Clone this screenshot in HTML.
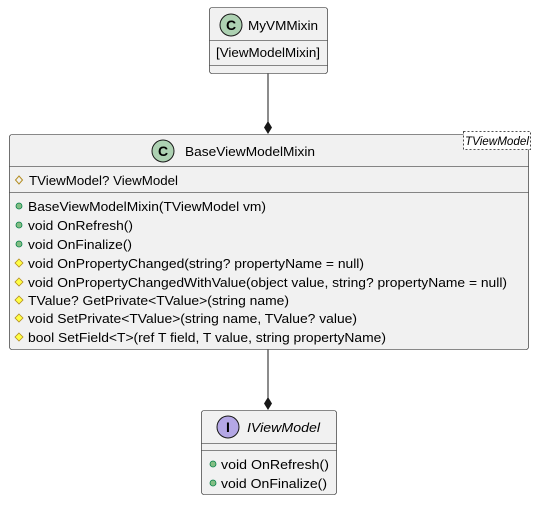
<!DOCTYPE html>
<html><head><style>
html,body{margin:0;padding:0;background:#fff;}
svg text{font-family:"Liberation Sans",sans-serif;font-size:13px;fill:#000;}
</style></head><body>
<svg width="538" height="501" viewBox="0 0 538 501" xmlns="http://www.w3.org/2000/svg">
<!-- connectors -->
<line x1="268" y1="73" x2="268" y2="124" stroke="#181818" stroke-width="1"/>
<polygon points="268,121 272,127.5 268,134 264,127.5" fill="#181818"/>
<line x1="268" y1="349" x2="268" y2="400" stroke="#181818" stroke-width="1"/>
<polygon points="268,397 272,403.5 268,410 264,403.5" fill="#181818"/>

<!-- MyVMMixin -->
<rect x="209.5" y="7.5" width="118" height="66" rx="2.5" fill="#F1F1F1" stroke="#181818" stroke-width="0.6"/>
<circle cx="231" cy="25" r="11" fill="#ADD1B2" stroke="#181818" stroke-width="1"/>
<text x="231" y="30" text-anchor="middle" style="font-weight:bold;font-size:14px">C</text>
<text x="248" y="30" textLength="70" lengthAdjust="spacingAndGlyphs">MyVMMixin</text>
<line x1="209.5" y1="40.5" x2="327.5" y2="40.5" stroke="#181818" stroke-width="0.6"/>
<text x="216" y="57" textLength="104" lengthAdjust="spacingAndGlyphs">[ViewModelMixin]</text>
<line x1="209.5" y1="65.5" x2="327.5" y2="65.5" stroke="#181818" stroke-width="0.6"/>

<!-- BaseViewModelMixin -->
<rect x="9.5" y="134.5" width="519" height="215" rx="2.5" fill="#F1F1F1" stroke="#181818" stroke-width="0.6"/>
<rect x="463.5" y="131.5" width="67" height="18" fill="#fff" stroke="#181818" stroke-width="0.8" stroke-dasharray="2,2"/>
<text x="465" y="145" style="font-style:italic;font-size:12px" textLength="64" lengthAdjust="spacingAndGlyphs">TViewModel</text>
<circle cx="163" cy="151" r="11" fill="#ADD1B2" stroke="#181818" stroke-width="1"/>
<text x="163" y="156" text-anchor="middle" style="font-weight:bold;font-size:14px">C</text>
<text x="185" y="156" textLength="130" lengthAdjust="spacingAndGlyphs">BaseViewModelMixin</text>
<line x1="9.5" y1="166.5" x2="528.5" y2="166.5" stroke="#181818" stroke-width="0.6"/>
<polygon points="19,176 22.5,180 19,184 15.5,180" fill="none" stroke="#B38D22" stroke-width="1"/>
<text x="29" y="185" textLength="149" lengthAdjust="spacingAndGlyphs">TViewModel? ViewModel</text>
<line x1="9.5" y1="192.5" x2="528.5" y2="192.5" stroke="#181818" stroke-width="0.6"/>

<g fill="#84BE84" stroke="#038048" stroke-width="0.8">
<circle cx="19" cy="206" r="3"/><circle cx="19" cy="225" r="3"/><circle cx="19" cy="244" r="3"/>
</g>
<g fill="#FFFF44" stroke="#B38D22" stroke-width="0.8">
<polygon points="19,259 23,263 19,267 15,263"/>
<polygon points="19,278 23,282 19,286 15,282"/>
<polygon points="19,296 23,300 19,304 15,300"/>
<polygon points="19,314 23,318 19,322 15,318"/>
<polygon points="19,333 23,337 19,341 15,337"/>
</g>
<text x="28" y="211" textLength="238" lengthAdjust="spacingAndGlyphs">BaseViewModelMixin(TViewModel vm)</text>
<text x="28" y="230" textLength="105" lengthAdjust="spacingAndGlyphs">void OnRefresh()</text>
<text x="28" y="249" textLength="104" lengthAdjust="spacingAndGlyphs">void OnFinalize()</text>
<text x="28" y="268" textLength="336" lengthAdjust="spacingAndGlyphs">void OnPropertyChanged(string? propertyName = null)</text>
<text x="28" y="287" textLength="479" lengthAdjust="spacingAndGlyphs">void OnPropertyChangedWithValue(object value, string? propertyName = null)</text>
<text x="28" y="305" textLength="261" lengthAdjust="spacingAndGlyphs">TValue? GetPrivate&lt;TValue&gt;(string name)</text>
<text x="28" y="323" textLength="329" lengthAdjust="spacingAndGlyphs">void SetPrivate&lt;TValue&gt;(string name, TValue? value)</text>
<text x="28" y="342" textLength="358" lengthAdjust="spacingAndGlyphs">bool SetField&lt;T&gt;(ref T field, T value, string propertyName)</text>

<!-- IViewModel -->
<rect x="201.5" y="410.5" width="135" height="84" rx="2.5" fill="#F1F1F1" stroke="#181818" stroke-width="0.6"/>
<circle cx="228" cy="427" r="11" fill="#B4A7E5" stroke="#181818" stroke-width="1"/>
<text x="228" y="432" text-anchor="middle" style="font-weight:bold;font-size:14px">I</text>
<text x="247" y="432" style="font-style:italic" textLength="73" lengthAdjust="spacingAndGlyphs">IViewModel</text>
<line x1="201.5" y1="443.5" x2="336.5" y2="443.5" stroke="#181818" stroke-width="0.6"/>
<line x1="201.5" y1="450.5" x2="336.5" y2="450.5" stroke="#181818" stroke-width="0.6"/>
<g fill="#84BE84" stroke="#038048" stroke-width="0.8">
<circle cx="213" cy="464" r="3"/><circle cx="213" cy="483" r="3"/>
</g>
<text x="221" y="469" textLength="108" lengthAdjust="spacingAndGlyphs">void OnRefresh()</text>
<text x="221" y="488" textLength="106" lengthAdjust="spacingAndGlyphs">void OnFinalize()</text>
</svg>
</body></html>
